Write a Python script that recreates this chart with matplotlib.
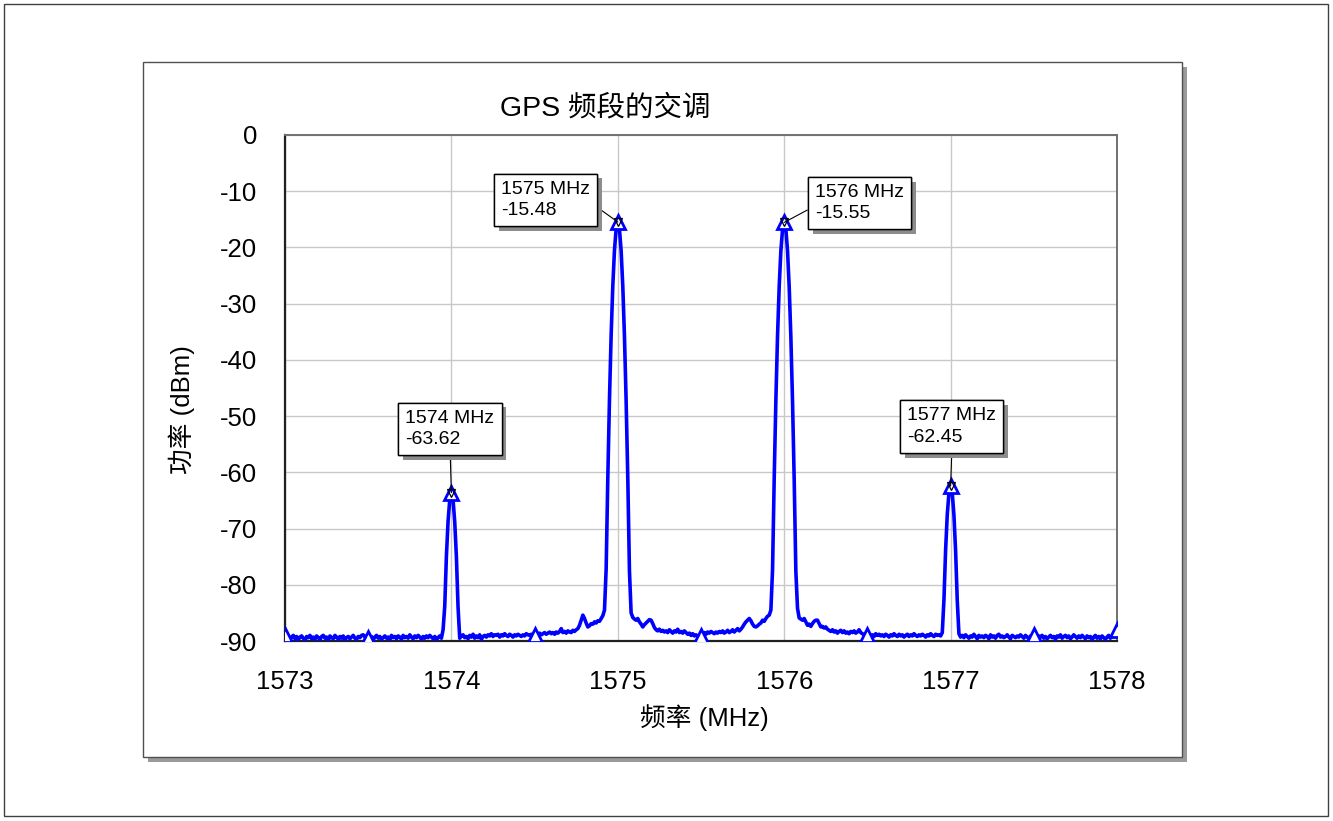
import numpy as np
import matplotlib
matplotlib.use('Agg')
import matplotlib.pyplot as plt
from matplotlib import patheffects
from matplotlib.patches import Rectangle

plt.rcParams['font.family'] = ['Liberation Sans', 'Noto Sans CJK SC', 'DejaVu Sans']
plt.rcParams['axes.unicode_minus'] = False

# spectrum trace, 0.01 MHz per sample from 1573.00 to 1578.00
freq_start = 1573.0
freq_step = 0.01
power_dbm = [
    -89.0, -89.4, -89.1, -89.7, -89.3, -89.0, -89.6, -89.2, -89.8, -89.3, -89.1, -89.5, -89.9, -89.2, -89.4, -89.0, -89.6, -89.3, -89.7, -89.1,
    -89.4, -89.8, -89.2, -89.0, -89.5, -89.3, -89.9, -89.1, -89.4, -89.6, -89.0, -89.3, -89.7, -89.2, -89.5, -89.1, -89.8, -89.4, -89.2, -89.6,
    -89.3, -89.0, -89.5, -89.7, -89.2, -89.4, -89.0, -88.9, -89.3, -89.1, -89.4, -89.6, -89.2, -89.8, -89.3, -89.0, -89.5, -89.2, -89.7, -89.4,
    -89.1, -89.5, -89.3, -89.8, -89.0, -89.4, -89.2, -89.6, -89.1, -89.3, -89.7, -89.0, -89.4, -89.2, -89.5, -88.9, -89.3, -89.6, -89.1, -89.4,
    -89.0, -89.3, -89.7, -89.2, -89.5, -89.1, -89.4, -89.0, -89.3, -89.6, -89.2, -89.8, -89.4, -89.1, -89.5, -88.0, -83.8, -74.9, -68.7, -64.9,
    -63.62, -64.9, -68.8, -75.0, -84.0, -89.5, -89.1, -88.9, -89.4, -89.2, -89.6, -89.0, -89.3, -88.8, -89.5, -89.1, -89.4, -88.9, -89.7, -89.2,
    -89.0, -89.3, -88.9, -89.1, -88.7, -89.2, -88.9, -89.0, -88.8, -89.3, -88.9, -89.1, -88.7, -89.0, -89.2, -88.8, -89.0, -89.3, -88.9, -89.1,
    -88.8, -89.0, -89.2, -88.9, -89.1, -88.7, -88.9, -89.0, -88.8, -89.1, -88.9, -89.3, -88.8, -88.6, -88.9, -88.7, -88.5, -88.8, -88.6, -88.4,
    -88.7, -88.5, -88.8, -88.4, -88.6, -88.3, -87.8, -88.5, -88.3, -88.6, -88.2, -88.4, -88.5, -88.1, -88.3, -88.0, -87.8, -87.2, -86.3, -85.4,
    -86.0, -86.8, -87.5, -87.3, -86.9, -87.0, -86.6, -86.8, -86.4, -86.5, -86.0, -85.5, -84.5, -77.2, -60.9, -47.0, -35.6, -26.8, -20.5, -16.7,
    -15.48, -16.8, -20.6, -26.9, -35.8, -47.2, -61.0, -77.5, -85.0, -85.8, -86.1, -86.3, -86.0, -86.6, -87.0, -87.5, -87.1, -86.8, -86.5, -86.2,
    -86.3, -86.9, -87.6, -88.0, -88.2, -87.9, -88.3, -88.1, -88.4, -88.2, -88.5, -88.0, -88.3, -88.6, -88.2, -88.4, -87.9, -88.5, -88.3, -88.6,
    -88.2, -88.5, -88.8, -88.6, -89.0, -88.7, -89.1, -88.9, -89.2, -89.0, -89.1, -88.7, -88.5, -88.8, -88.4, -88.6, -88.3, -88.5, -88.7, -88.4,
    -88.6, -88.3, -88.5, -88.2, -88.6, -88.4, -88.1, -88.5, -88.3, -88.0, -88.4, -88.1, -87.8, -88.2, -87.9, -87.5, -87.0, -86.6, -86.3, -86.0,
    -86.4, -87.0, -87.4, -87.5, -87.3, -87.0, -86.8, -86.3, -86.5, -86.0, -85.6, -85.4, -84.5, -77.3, -61.0, -47.1, -35.7, -26.9, -20.6, -16.8,
    -15.55, -16.8, -20.6, -27.0, -35.9, -47.3, -61.2, -77.6, -84.2, -85.9, -86.1, -86.3, -86.0, -86.6, -87.2, -87.0, -87.4, -86.9, -86.5, -86.3,
    -86.3, -86.9, -87.5, -87.4, -87.7, -87.5, -87.9, -88.1, -88.3, -88.0, -88.4, -88.2, -88.6, -88.3, -88.1, -88.5, -88.2, -88.6, -88.4, -88.7,
    -88.3, -88.5, -88.2, -88.6, -88.4, -88.0, -88.5, -88.7, -88.9, -88.8, -89.0, -88.8, -89.1, -88.9, -89.2, -88.7, -89.0, -88.8, -89.1, -88.9,
    -89.2, -88.8, -89.0, -89.3, -88.9, -89.1, -88.7, -89.0, -89.2, -88.8, -89.1, -88.9, -89.3, -89.0, -88.8, -89.2, -88.9, -89.1, -88.7, -89.0,
    -89.2, -88.9, -89.1, -88.8, -89.0, -89.3, -88.9, -89.1, -88.7, -89.0, -89.2, -88.8, -89.0, -88.9, -89.1, -88.5, -82.7, -73.8, -67.5, -63.7,
    -62.45, -63.7, -67.6, -73.9, -82.8, -88.7, -89.3, -89.0, -89.4, -88.9, -89.2, -89.5, -89.1, -89.3, -88.8, -89.2, -89.6, -89.0, -89.3, -89.1,
    -89.4, -89.0, -89.2, -89.6, -88.9, -89.3, -89.1, -89.5, -89.0, -88.8, -89.3, -89.1, -89.4, -89.2, -88.9, -89.3, -89.6, -89.0, -89.2, -89.4,
    -89.1, -89.3, -88.9, -89.2, -89.5, -89.0, -89.3, -89.6, -89.1, -89.2, -89.0, -89.4, -89.7, -89.1, -89.3, -89.0, -89.5, -89.2, -89.6, -89.3,
    -89.0, -89.4, -89.2, -89.7, -89.1, -89.3, -88.9, -89.5, -89.2, -89.0, -89.4, -89.1, -89.6, -89.3, -88.9, -89.2, -89.5, -89.1, -89.4, -89.0,
    -89.3, -89.6, -89.1, -89.4, -89.2, -89.8, -89.3, -89.0, -89.5, -89.2, -89.6, -89.1, -89.4, -89.7, -89.3, -89.0, -89.5, -89.2, -88.8, -88.4,
    -88.0,
]
freq_mhz = freq_start + freq_step * np.arange(len(power_dbm))

# marked tones
marker_freq = [1574, 1575, 1576, 1577]
marker_power = [-63.62, -15.48, -15.55, -62.45]
# label box offset from the tone (points) and where the leader leaves the box
label_offset = [(-1, 46), (-52, 16), (54, 14), (1, 43)]
label_relpos = [(0.5, 0.0), (1.0, 0.44), (0.0, 0.42), (0.5, 0.0)]

x_ticks = [1573, 1574, 1575, 1576, 1577, 1578]
y_ticks = [0, -10, -20, -30, -40, -50, -60, -70, -80, -90]

W, H = 1333, 821
fig = plt.figure(figsize=(W / 100, H / 100), dpi=100)

def px_rect(x0, y0, x1, y1, **kw):
    return Rectangle((x0 / W, 1 - y1 / H), (x1 - x0) / W, (y1 - y0) / H,
                     transform=fig.transFigure, **kw)

fig.patches.append(px_rect(4, 4, 1328, 816, fc='white', ec='#404040', lw=1.0, zorder=-3))
fig.patches.append(px_rect(148, 67, 1187, 762, fc='#9a9a9a', ec='none', zorder=-2))
fig.patches.append(px_rect(143, 62, 1182, 757, fc='white', ec='#505050', lw=1.0, zorder=-1))

ax = fig.add_axes([285 / W, 1 - 641 / H, (1117 - 285) / W, (641 - 135) / H])
ax.plot(freq_mhz, power_dbm, color='#0000ff', lw=2.6, zorder=3,
        marker='^', markevery=50, ms=10, mfc='white', mec='#0000ff', mew=2.0)
ax.plot(marker_freq, marker_power, ls='none', marker='v', ms=6,
        mfc='none', mec='black', mew=0.9, zorder=5)

for f, p, off, rp in zip(marker_freq, marker_power, label_offset, label_relpos):
    ann = ax.annotate('%d MHz\n%.2f' % (f, p), xy=(f, p), xytext=off,
                      textcoords='offset points', ha='center', va='center',
                      multialignment='left', fontsize=14, linespacing=1.35, zorder=6,
                      bbox=dict(boxstyle='square,pad=0.36', fc='white', ec='black', lw=1.0),
                      arrowprops=dict(arrowstyle='-', color='black', lw=0.8,
                                      shrinkA=0, shrinkB=0, relpos=rp))
    ann.get_bbox_patch().set_path_effects([
        patheffects.withSimplePatchShadow(offset=(3.5, -3.5), shadow_rgbFace='#8c8c8c', alpha=1.0),
        patheffects.Normal()])

ax.set_xlim(1573, 1578)
ax.set_ylim(-90, 0)
ax.set_xticks(x_ticks)
ax.set_yticks(y_ticks)
ax.set_xticklabels([str(t) for t in x_ticks])
ax.set_yticklabels([str(t) for t in y_ticks])
ax.tick_params(length=0, labelsize=18.5, colors='black')
ax.tick_params(axis='x', pad=21)
ax.tick_params(axis='y', pad=20)
ax.grid(True, color='#c8c8c8', lw=1.0)
ax.set_axisbelow(True)
for s in ['left', 'bottom']:
    ax.spines[s].set_color('#202020')
    ax.spines[s].set_linewidth(1.6)
for s in ['top', 'right']:
    ax.spines[s].set_color('#707070')
    ax.spines[s].set_linewidth(1.4)

fig.text(605 / W, 1 - 108 / H, 'GPS 频段的交调', ha='center', va='center', fontsize=20.5)
fig.text(704 / W, 1 - 718 / H, '频率 (MHz)', ha='center', va='center', fontsize=18.5)
fig.text(182 / W, 1 - 410 / H, '功率 (dBm)', ha='center', va='center', fontsize=18.5, rotation=90)

fig.savefig('out.png', dpi=100)
